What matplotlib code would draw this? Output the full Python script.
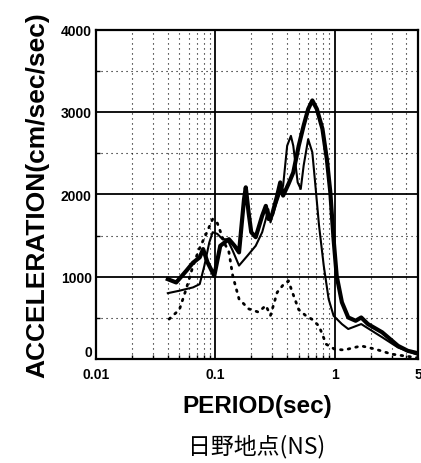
import matplotlib

matplotlib.use("Agg")
import matplotlib.pyplot as plt
from matplotlib.ticker import FixedLocator, NullFormatter

plt.rcParams.update({
    "font.family": ["Liberation Sans", "DejaVu Sans"],
    "font.weight": "bold",
})

# response spectra (period in sec, acceleration in cm/sec/sec)
period_bold = [0.040, 0.047, 0.057, 0.065, 0.074, 0.079, 0.086, 0.098, 0.11,
               0.13, 0.145, 0.158, 0.174, 0.18, 0.19, 0.20, 0.218, 0.247,
               0.265, 0.28, 0.30, 0.33, 0.35, 0.37, 0.41, 0.45, 0.50, 0.55,
               0.60, 0.65, 0.71, 0.79, 0.86, 0.92, 0.98, 1.04, 1.15, 1.3,
               1.5, 1.67, 1.9, 2.5, 3.4, 4.1, 5.0]
acc_bold = [970, 930, 1070, 1170, 1235, 1335, 1175, 1010, 1375,
            1455, 1375, 1295, 1940, 2085, 1780, 1540, 1480, 1740,
            1860, 1700, 1760, 1985, 2145, 1985, 2125, 2265, 2590, 2835,
            3035, 3140, 3035, 2795, 2430, 2025, 1455, 1010, 690, 505,
            465, 505, 425, 325, 160, 100, 70]

period_thin = [0.040, 0.050, 0.065, 0.074, 0.081, 0.089, 0.095, 0.104, 0.115,
               0.126, 0.14, 0.158, 0.186, 0.218, 0.247, 0.265, 0.278, 0.29,
               0.32, 0.35, 0.37, 0.40, 0.43, 0.45, 0.49, 0.52, 0.55, 0.60,
               0.65, 0.69, 0.74, 0.81, 0.89, 0.98, 1.15, 1.3, 1.67, 2.5,
               3.4, 5.0]
acc_thin = [800, 830, 870, 910, 1135, 1415, 1540, 1520, 1455,
            1455, 1315, 1135, 1255, 1375, 1540, 1700, 1820, 1660,
            1860, 2025, 2105, 2590, 2710, 2590, 2145, 2065, 2350, 2670,
            2510, 2105, 1620, 1135, 730, 525, 425, 365, 425, 265,
            140, 50]

period_dot = [0.041, 0.050, 0.057, 0.065, 0.073, 0.085, 0.095, 0.104, 0.12,
              0.13, 0.14, 0.158, 0.19, 0.23, 0.265, 0.29, 0.33, 0.37,
              0.41, 0.44, 0.50, 0.57, 0.65, 0.74, 0.85, 1.0, 1.2, 1.67,
              2.2, 3.0, 5.0]
acc_dot = [485, 600, 850, 1130, 1330, 1540, 1700, 1650, 1400,
           1300, 1010, 730, 610, 570, 650, 530, 810, 900,
           950, 820, 600, 530, 480, 400, 180, 120, 110, 160,
           120, 60, 15]

fig = plt.figure(figsize=(4.21, 4.64), dpi=100)
ax = fig.add_axes([0.228, 0.224, 0.765, 0.710])

ax.semilogx(period_bold, acc_bold, color="black", lw=3.0, solid_joinstyle="round", zorder=4)
ax.semilogx(period_thin, acc_thin, color="black", lw=1.5, zorder=4)
ax.semilogx(period_dot, acc_dot, color="black", lw=2.0, ls=(0, (0.6, 2.2)),
            dash_capstyle="round", zorder=4)

ax.set_xlim(0.01, 5)
ax.set_ylim(0, 4000)

# solid major grid, dotted minor grid
ax.xaxis.set_major_locator(FixedLocator([0.01, 0.1, 1, 5]))
ax.xaxis.set_minor_locator(FixedLocator(
    [m * d for d in (0.01, 0.1, 1) for m in range(2, 10) if m * d < 5]))
ax.xaxis.set_minor_formatter(NullFormatter())
ax.set_xticklabels(["0.01", "0.1", "1", "5"])
ax.yaxis.set_major_locator(FixedLocator([0, 1000, 2000, 3000, 4000]))
ax.yaxis.set_minor_locator(FixedLocator([500, 1500, 2500, 3500]))

for v in (0.1, 1):
    ax.axvline(v, color="black", lw=1.3, zorder=2)
for v in (1000, 2000, 3000):
    ax.axhline(v, color="black", lw=1.3, zorder=2)
ax.grid(which="minor", color="black", lw=0.8, ls=(0, (1, 3.5)), zorder=1)

for s in ax.spines.values():
    s.set_linewidth(1.6)

ax.tick_params(which="both", direction="in", top=False, right=False)
ax.tick_params(which="major", length=0, labelsize=10)
ax.tick_params(axis="x", which="major", pad=6)
ax.tick_params(axis="y", which="major", pad=3)
ax.tick_params(which="minor", length=3, width=1)
# keep the "0" label sitting on the baseline, clear of "0.01"
ax.get_yticklabels()[0].set_verticalalignment("bottom")

ax.set_ylabel("ACCELERATION(cm/sec/sec)", fontsize=19, fontweight="bold", labelpad=8)
ax.set_xlabel("PERIOD(sec)", fontsize=17.5, fontweight="bold", labelpad=9)

fig.text(0.61, 0.037, "日野地点(NS)", ha="center", va="center", fontsize=16.5,
         fontweight="normal", family=["Noto Sans CJK JP", "DejaVu Sans"])

fig.savefig("out.png", dpi=100)
